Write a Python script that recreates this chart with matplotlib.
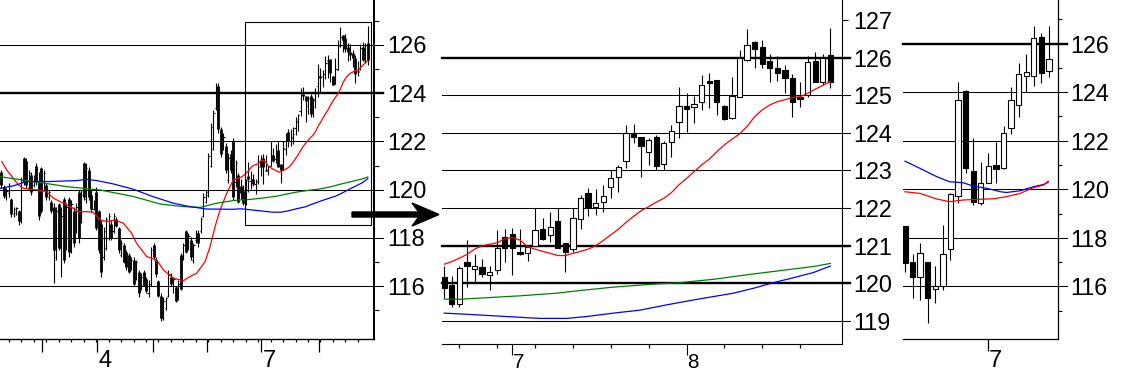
import numpy as np
import matplotlib
matplotlib.use("Agg")
import matplotlib.pyplot as plt
from matplotlib import font_manager
from matplotlib.patches import Rectangle, FancyArrow

# left panel: daily bars before the zoomed window (index -96 .. -1)
hi1 = [120.82,120.20,120.06,120.27,119.65,119.30,119.30,119.16,120.54,121.37,
       121.30,120.82,120.75,120.61,121.10,120.75,120.96,120.82,120.27,119.99,
       119.58,119.44,119.30,119.44,119.30,119.71,119.44,119.71,119.58,119.30,
       119.44,119.99,119.99,121.16,121.10,120.96,119.99,119.58,120.13,119.16,
       118.75,118.47,118.89,119.02,118.75,119.02,118.89,118.47,117.92,117.78,
       117.50,117.37,117.23,117.23,117.09,116.68,116.54,116.68,116.40,116.26,
       117.64,117.78,117.23,116.26,115.71,115.57,115.57,116.68,116.54,116.40,
       115.99,116.26,117.37,117.78,118.33,118.20,118.06,117.78,118.33,118.33,
       118.89,119.85,119.99,121.51,122.75,123.31,124.41,124.41,122.62,122.34,
       121.92,121.51,121.65,122.13,121.23,120.68]
lo1 = [120.06,119.65,119.58,119.71,118.89,118.89,118.95,118.54,118.61,120.20,
       120.06,119.99,119.78,120.13,120.20,118.75,119.02,119.99,119.58,119.58,
       119.02,116.12,117.09,117.50,116.40,116.95,117.50,117.23,117.37,117.64,
       118.20,117.78,118.61,119.58,119.44,119.58,119.09,119.16,118.33,117.37,
       116.40,117.09,117.50,117.92,117.92,118.20,118.47,117.37,117.23,116.95,
       116.68,116.54,116.68,115.99,116.26,115.57,115.85,115.99,115.71,115.57,
       115.99,117.09,116.40,115.57,114.54,114.60,115.02,115.57,115.99,115.71,
       115.36,115.43,115.85,117.09,117.37,117.50,117.09,116.95,117.78,117.64,
       118.20,118.89,119.44,119.71,120.96,121.65,123.31,122.34,121.37,121.65,
       120.68,120.27,120.68,119.58,120.13,119.44]
op1 = [120.75,120.10,119.70,119.85,119.60,119.00,119.05,119.10,118.70,121.30,
       121.20,120.10,120.60,120.20,121.00,120.30,120.90,120.00,120.20,119.70,
       119.50,119.30,117.20,119.40,117.60,119.60,117.60,119.60,117.50,119.10,
       118.30,119.90,118.70,121.10,119.60,120.80,119.80,119.20,119.90,119.10,
       118.60,117.20,117.60,118.00,118.60,118.30,118.80,118.40,117.30,117.70,
       117.40,117.30,116.80,117.10,116.40,116.60,115.90,116.60,116.30,115.70,
       116.10,117.70,117.10,116.20,115.60,114.70,115.10,115.60,116.40,116.00,
       115.95,115.50,117.30,117.20,118.30,117.60,117.90,117.10,117.90,118.20,
       118.30,118.90,119.50,119.80,121.00,121.70,123.40,124.30,122.50,121.70,
       121.80,120.40,121.50,122.00,120.30,120.60]
cl1 = [120.20,119.75,119.95,120.15,119.00,119.20,119.25,118.70,120.40,120.30,
       120.20,120.70,119.90,120.50,120.30,118.90,119.10,120.70,119.70,119.90,
       119.10,117.50,119.10,117.60,118.90,117.10,119.30,117.40,119.40,117.80,
       119.30,118.00,119.80,119.70,120.90,119.70,119.20,119.50,118.40,117.50,
       116.60,118.30,118.80,118.90,118.00,118.90,118.50,117.50,117.80,117.00,
       116.80,116.60,117.10,116.10,117.00,115.70,116.40,116.00,115.80,116.10,
       117.50,117.20,116.50,115.60,114.70,115.40,115.50,116.50,116.10,116.30,
       115.40,116.10,115.90,117.70,117.40,118.10,117.20,117.70,118.20,117.80,
       118.80,119.70,119.90,121.40,122.60,123.20,124.20,122.50,121.50,122.20,
       120.80,121.30,120.80,119.70,121.10,119.50]

# zoomed window: 52 daily candles (middle panel, also last bars on the left)
o2 = [120.16,119.96,119.45,120.56,120.38,120.43,120.22,120.36,121.24,121.31,
      120.83,120.80,121.00,121.44,121.29,121.66,121.07,120.91,121.70,122.39,
      122.04,122.17,122.55,122.84,123.25,123.97,123.88,123.48,123.88,123.17,
      123.75,124.30,124.72,124.70,124.81,125.36,125.41,124.72,124.39,124.96,
      125.94,126.41,126.29,125.91,125.72,125.67,125.45,124.94,125.01,125.91,
      125.34,126.07]
c2 = [119.87,119.45,120.40,120.45,120.45,120.24,120.30,120.93,120.93,120.93,
      120.79,120.98,121.42,121.18,121.51,120.93,120.83,121.73,122.26,122.04,
      122.13,122.33,122.79,123.10,123.99,123.90,123.66,123.81,123.13,123.72,
      124.05,124.72,124.63,124.78,125.27,125.32,124.83,124.36,124.99,125.98,
      126.34,126.22,125.82,125.73,125.60,125.47,124.81,124.89,125.89,125.36,
      125.98,125.36]
h2 = [120.45,120.21,120.45,121.14,120.77,120.64,120.45,121.42,121.44,121.48,
      121.44,121.00,122.00,121.73,121.91,122.00,121.08,122.00,122.35,122.53,
      122.50,122.62,123.00,123.15,124.21,124.24,123.90,123.87,123.95,123.79,
      124.21,125.21,125.05,124.98,125.54,125.60,125.41,124.73,125.48,126.20,
      126.75,126.43,126.47,126.09,126.04,125.81,125.57,125.34,126.03,126.14,
      126.10,126.78]
l2 = [119.60,119.37,119.38,119.91,120.02,120.16,119.83,120.25,120.58,120.22,
      120.76,120.60,121.00,121.16,121.11,120.93,120.29,120.83,121.44,121.79,
      121.82,121.91,122.26,122.44,123.06,123.72,122.82,123.15,123.02,123.02,
      123.37,123.86,124.01,124.26,124.61,124.65,124.48,124.33,124.37,124.95,
      125.91,125.72,125.72,125.34,125.38,125.07,124.41,124.70,124.96,125.34,
      125.27,125.19]

# moving averages, zoomed window
red2 = [120.51,120.58,120.67,120.77,120.91,121.00,121.04,121.08,121.19,121.22,
        121.15,120.98,120.91,120.85,120.80,120.74,120.74,120.80,120.85,120.91,
        121.00,121.14,121.29,121.44,121.62,121.78,121.93,122.04,122.16,122.26,
        122.41,122.62,122.79,122.97,123.15,123.30,123.50,123.68,123.83,123.97,
        124.17,124.43,124.61,124.74,124.83,124.88,124.94,124.96,125.05,125.16,
        125.26,125.36]
green2_x = [0, 2, 4.7, 10, 14.8, 17.9, 22.3, 27.6, 31.1, 35.6, 40, 44.4, 48.8, 51]
green2 = [119.58, 119.58, 119.61, 119.67, 119.74, 119.81, 119.90, 119.98,
          120.02, 120.11, 120.23, 120.34, 120.45, 120.53]
blue2_x = [0, 2.95, 6.48, 10, 12.64, 16.17, 18.81, 22.33, 25.86, 29.38, 32.91,
           35.55, 38.19, 40.84, 43.48, 46.12, 48.77, 51]
blue2 = [119.21, 119.18, 119.14, 119.10, 119.07, 119.07, 119.12, 119.21, 119.29,
         119.43, 119.56, 119.65, 119.74, 119.87, 120.02, 120.15, 120.29, 120.46]

# moving averages, left panel before the window
red1_x = [-95.9, -93.9, -91.3, -89.2, -87.2, -84.6, -81.2, -77.9, -75.2, -72.5,
          -69.9, -67.2, -65.2, -61.8, -59.2, -56.5, -53.8, -50.5, -47.1, -43.8,
          -41.8, -37.7, -33.7, -31.1, -27.0, -23.0, -20.4, -17.7, -14.3, -12.3,
          -10.3, -8.3, -5.6, -3.0]
red1 = [121.17,120.82,120.48,120.20,120.06,120.02,119.99,119.92,119.65,119.51,
        119.37,119.23,119.09,119.09,119.07,118.75,118.68,118.75,118.61,118.20,
        117.78,117.23,117.09,116.68,116.33,116.23,116.40,116.54,117.02,117.64,
        118.47,119.16,119.85,120.41]
green1_x = [-96.6, -83.2, -69.9, -56.5, -43.1, -32.4, -23.0, -16.3, -9.7, -3.0]
green1 = [120.54, 120.34, 120.13, 119.99, 119.72, 119.41, 119.30, 119.27, 119.44, 119.55]
blue1_x = [-96.6, -91.3, -85.9, -76.5, -65.8, -61.8, -57.8, -51.1, -43.1, -35.1,
           -27.0, -20.4, -13.7, -3.0]
blue1 = [120.06, 120.16, 120.34, 120.34, 120.38, 120.43, 120.38, 120.24, 120.02,
         119.71, 119.44, 119.30, 119.20, 119.19]

# right panel: 20 candles
o3 = [118.49,116.99,116.37,116.99,115.89,116.01,117.52,119.72,124.06,120.75,
      119.42,120.27,121.00,120.86,122.51,123.46,124.67,124.67,126.26,124.87]
c3 = [116.95,116.40,117.36,115.51,116.03,117.32,119.79,123.68,120.86,119.46,
      120.24,120.96,120.82,122.30,123.68,124.74,124.82,126.22,124.78,125.35]
h3 = [118.49,117.33,117.77,117.02,116.84,118.53,119.86,124.43,124.09,122.13,
      121.11,121.48,121.96,122.61,124.20,125.19,125.57,126.73,126.43,126.73]
l3 = [116.60,115.53,115.44,114.48,115.33,115.85,117.09,119.42,120.66,119.35,
      119.35,120.24,120.27,120.82,122.26,122.96,124.02,124.26,124.39,124.64]
blue3_x = [0, 2, 4.2, 5.9, 7.7, 9, 10.8, 12.6, 13.4, 15.2, 17, 18.3, 18.9]
blue3 = [121.16, 120.86, 120.52, 120.31, 120.27, 120.13, 120.04, 119.90, 119.87,
         119.94, 120.11, 120.20, 120.29]
red3_x = [0, 2, 4.2, 5.9, 7.7, 9.9, 11.7, 13.4, 15.2, 16.7, 18.3, 18.9]
red3 = [119.90, 119.83, 119.60, 119.49, 119.56, 119.59, 119.61, 119.70, 119.83,
        120.04, 120.18, 120.34]


def font_ok(name):
    try:
        font_manager.findfont(font_manager.FontProperties(family=name),
                              fallback_to_default=False)
        return True
    except Exception:
        return False


narrow = "Liberation Sans Narrow" if font_ok("Liberation Sans Narrow") else "Liberation Sans"
plt.rcParams["font.family"] = ["Liberation Sans", "DejaVu Sans"]

W, H = 1127, 374
fig = plt.figure(figsize=(W / 100, H / 100), dpi=100)


def px_axes(l, t, r, b):
    return fig.add_axes([l / W, 1 - b / H, (r - l) / W, (b - t) / H])


ax1 = px_axes(0, 0, 374.3, 339.3)
ax2 = px_axes(441.7, 0, 841.7, 344)
ax3 = px_axes(902.7, 0, 1057.7, 339.3)

for ax, lw in [(ax1, 1.0), (ax2, 0.8), (ax3, 0.9)]:
    ax.set_facecolor("none")
    ax.spines["top"].set_visible(False)
    ax.spines["left"].set_visible(False)
    ax.spines["bottom"].set_linewidth(lw)
    ax.spines["right"].set_linewidth(lw)
    ax.yaxis.tick_right()
ax1.spines["right"].set_linewidth(1.45)


def hgrid(ax, levels, thick, xmax):
    for v in levels:
        ax.axhline(v, xmin=0, xmax=xmax, color="k", lw=1.7 if v in thick else 0.75,
                   clip_on=False, zorder=1)


def candles(ax, x, o, c, h, l, width=0.7):
    x, o, c, h, l = map(np.asarray, (x, o, c, h, l))
    ax.vlines(x, l, h, color="k", lw=0.8, zorder=2)
    up = c >= o
    height = np.maximum(np.abs(c - o), 0.05)
    ax.bar(x, height, bottom=np.minimum(o, c), width=width,
           color=np.where(up, "white", "black"), edgecolor="k", lw=0.8, zorder=3)


def ohlc(ax, x, o, c, h, l):
    x, o, c, h, l = map(np.asarray, (x, o, c, h, l))
    ax.vlines(x, l, h, color="k", lw=0.8, zorder=2)
    dn = c < o
    ax.vlines(x[dn], c[dn], o[dn], color="k", lw=2.0, zorder=3)
    ax.hlines(o[~dn], x[~dn] - 0.5, x[~dn], color="k", lw=0.8, zorder=3)
    ax.hlines(c[~dn], x[~dn], x[~dn] + 0.5, color="k", lw=0.8, zorder=3)


def xlabel(ax, x, s, dy, size, family, dx=1.0):
    ax.annotate(s, xy=(x, 0), xycoords=("data", "axes fraction"), xytext=(dx, dy),
                textcoords="offset pixels", ha="left", va="baseline",
                fontsize=size, family=family)


# ---- left panel ----
x_pre = np.arange(-96, 0)
x_win = np.arange(0, 52)
ohlc(ax1, np.concatenate([x_pre, x_win]), op1 + o2, cl1 + c2, hi1 + h2, lo1 + l2)
ax1.plot(red1_x + list(x_win), red1 + red2, color="#ff0000", lw=0.9, zorder=4)
ax1.plot(green1_x + green2_x, green1 + green2, color="#008000", lw=0.9, zorder=4)
ax1.plot(blue1_x + blue2_x, blue1 + blue2, color="#0000ff", lw=0.9, zorder=4)
hgrid(ax1, [116, 118, 120, 122, 124, 126], [124], 383 / 374.3)
ax1.add_patch(Rectangle((1.84, 118.54), 50.56, 8.40, fill=False, ec="k", lw=0.8, zorder=5))
ax1.set_xlim(-96.6, 53.6)
ax1.set_ylim(113.80, 127.865)
ax1.set_yticks([116, 118, 120, 122, 124, 126])
ax1.set_yticks([115, 117, 119, 121, 123, 125, 127], minor=True)
ax1.tick_params(axis="y", which="major", length=0, pad=9.1, labelsize=17)
ax1.tick_params(axis="y", which="minor", length=3.6, width=0.8)
ax1.set_xticks([-79.6, -57.8, -35.1, -13.7, 8.1, 31.5])
ax1.set_xticks(np.arange(-93, 50, 5), minor=True)
ax1.set_xticklabels([])
ax1.tick_params(axis="x", which="major", length=9.4, width=0.9)
ax1.tick_params(axis="x", which="minor", length=2.5, width=0.9)
xlabel(ax1, -57.8, "4", -27.7, 17, "Liberation Sans", 1.5)
xlabel(ax1, 8.1, "7", -27.7, 17, "Liberation Sans", 1.5)

# ---- middle panel ----
candles(ax2, x_win, o2, c2, h2, l2)
ax2.plot(x_win, red2, color="#ff0000", lw=0.9, zorder=4)
ax2.plot(green2_x, green2, color="#008000", lw=0.9, zorder=4)
ax2.plot(blue2_x, blue2, color="#0000ff", lw=0.9, zorder=4)
hgrid(ax2, [119, 120, 121, 122, 123, 124, 125, 126], [126, 121, 120], 408.3 / 400)
ax2.set_xlim(-0.34, 52.5)
ax2.set_ylim(118.39, 127.53)
ax2.set_yticks(range(119, 128))
ax2.tick_params(axis="y", which="major", length=4.5, width=0.8, pad=3.8, labelsize=16.8)
for lab in ax2.get_yticklabels():
    lab.set_family(narrow)
ax2.set_xticks([9, 32])
ax2.set_xticks(np.arange(2, 50, 5), minor=True)
ax2.set_xticklabels([])
ax2.tick_params(axis="x", which="major", length=8, width=0.8)
ax2.tick_params(axis="x", which="minor", length=3.1, width=0.9)
xlabel(ax2, 9, "7", -23.7, 14.8, narrow, 1.0)
xlabel(ax2, 32, "8", -23.7, 14.8, narrow, 1.0)

# ---- right panel ----
x3 = np.arange(len(o3))
candles(ax3, x3, o3, c3, h3, l3)
ax3.plot(blue3_x, blue3, color="#0000ff", lw=0.9, zorder=4)
ax3.plot(red3_x, red3, color="#ff0000", lw=0.9, zorder=4)
hgrid(ax3, [116, 118, 120, 122, 124, 126], [126], 164 / 155)
ax3.set_xlim(-0.3, 20.15)
ax3.set_ylim(113.82, 127.80)
ax3.set_yticks([116, 118, 120, 122, 124, 126])
ax3.set_yticks([115, 117, 119, 121, 123, 125, 127], minor=True)
ax3.tick_params(axis="y", which="major", length=0, pad=8.9, labelsize=16.8)
ax3.tick_params(axis="y", which="minor", length=2.9, width=0.8)
ax3.set_xticks([11])
ax3.set_xticklabels([])
ax3.tick_params(axis="x", which="major", length=8.6, width=0.9)
xlabel(ax3, 11, "7", -27.7, 17, "Liberation Sans", 0.5)

# ---- arrow from the left box to the zoomed panel ----
ov = fig.add_axes([0, 0, 1, 1], facecolor="none")
ov.set_xlim(0, W)
ov.set_ylim(H, 0)
ov.axis("off")
ov.add_patch(FancyArrow(352, 214.5, 87, 0, width=5, head_width=23, head_length=27,
                        length_includes_head=True, overhang=0.25, color="k"))

fig.savefig("out.png", dpi=100)
